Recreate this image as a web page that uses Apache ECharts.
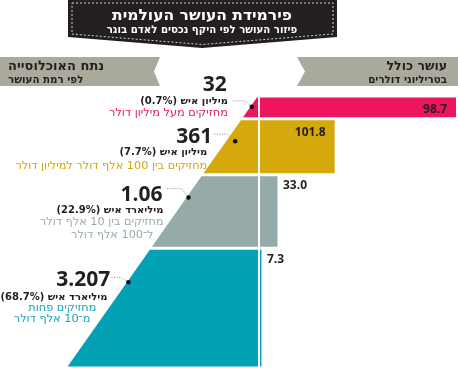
<!DOCTYPE html>
<html dir="rtl">
<head>
<meta charset="utf-8">
<script src="https://cdn.jsdelivr.net/npm/echarts@6/dist/echarts.min.js"></script>
<style>
html,body{margin:0;padding:0;background:#fff;}
#chart{width:458px;height:368px;}
</style>
</head>
<body>
<div id="chart"></div>
<script>
// ---------- data ----------
const categories = ['מעל מיליון דולר', 'בין 100 אלף דולר למיליון דולר', 'בין 10 אלף דולר ל־100 אלף דולר', 'פחות מ־10 אלף דולר'];
const popNumbers = ['32', '361', '1.06', '3.207'];
const popUnits = ['מיליון איש', 'מיליון איש', 'מיליארד איש', 'מיליארד איש'];
const popShare = [0.7, 7.7, 22.9, 68.7];          // % of adult population
const wealthTotal = [98.7, 101.8, 33.0, 7.3];      // trillion USD
const wealthLabels = ['98.7', '101.8', '33.0', '7.3'];
const descLines = [
  ['מחזיקים מעל מיליון דולר'],
  ['מחזיקים בין 100 אלף דולר למיליון דולר'],
  ['מחזיקים בין 10 אלף דולר', 'ל־100 אלף דולר'],
  ['מחזיקים פחות', 'מ־10 אלף דולר']
];
const titleText = 'פירמידת העושר העולמית';
const subtitleText = 'פיזור העושר לפי היקף נכסים לאדם בוגר';
const leftHeader = ['נתח האוכלוסייה', 'לפי רמת העושר'];
const rightHeader = ['עושר כולל', 'בטריליוני דולרים'];

// ---------- styles / layout ----------
const COLORS = ['#ee1460', '#d5a90c', '#95aaa9', '#02a1b5'];
const TEXT_COLORS = ['#e8185f', '#d4a50d', '#98acac', '#17a5b9'];
const FONT = '"Open Sans", "Liberation Sans", "DejaVu Sans", sans-serif';
const HFONT = '"DejaVu Sans", sans-serif';
const PYR_K = 13.2;   // pyramid slant (x units per depth unit)
const LAYOUT = {
  dotFrac: [0.476, 0.40, 0.31, 0.285],
  dotInset: [1.5, 9, 2, 1.5],
  leader: [[-6, -6, -20], [-8, -7, -22], [-7, -9, -22], [-7, -5, -17]],
  num: [[-25, -22], [-23, -4], [-26, -3], [-18, -2]],
  unit: [[-24, -5], [-28, 11], [-25, 13], [-21, 15]],
  desc: [[[-24, 6]], [[-28, 25]], [[-25, 25], [-35, 38]], [[-32, 26], [-38, 37]]]
};

const cum = [];
popShare.reduce((a, v, i) => { cum[i] = a + v; return a + v; }, 0);

function renderItem(params, api) {
  const i = api.value(0);
  const dTop = Math.sqrt(Math.max(0, cum[i] - popShare[i]));
  const dBot = Math.sqrt(cum[i]);
  const apex = api.coord([0, 0]);
  const pTop = api.coord([0, dTop]);
  const pBot = api.coord([0, dBot]);
  const pxPerY = api.size([0, 1])[1];
  const G = 1.5;
  const top = pTop[1] + G, bot = pBot[1] - G;
  const x0 = pTop[0];
  const edge = py => api.coord([-PYR_K * (py - apex[1]) / pxPerY, 0])[0] - 1;
  const children = [];
  children.push({
    type: 'polygon',
    shape: { points: [[x0 - 1, top], [x0 - 1, bot], [edge(bot), bot], [edge(top), top]] },
    style: { fill: COLORS[i] }
  });
  const hData = (bot - top) / pxPerY;
  const len = api.value(1) / hData;
  const xEnd = api.coord([len, 0])[0];
  children.push({
    type: 'rect',
    shape: { x: x0 + 1, y: top, width: xEnd - x0 - 1, height: bot - top },
    style: { fill: COLORS[i] }
  });
  const inside = (xEnd - x0) > 40;
  children.push({
    type: 'text',
    style: {
      text: wealthLabels[i],
      x: inside ? xEnd - 9 : xEnd + 5.5,
      y: top + (inside ? 12 : 9.5),
      align: inside ? 'right' : 'left',
      verticalAlign: 'middle',
      fill: '#231f20',
      font: 'bold 12px ' + FONT
    }
  });
  const dy = pTop[1] + LAYOUT.dotFrac[i] * (pBot[1] - pTop[1]);
  const dx = edge(dy) + LAYOUT.dotInset[i];
  const L = LAYOUT.leader[i];
  children.push({
    type: 'polyline',
    shape: { points: [[dx, dy], [dx + L[0], dy + L[1]], [dx + L[2], dy + L[1]]] },
    style: { stroke: '#8c8c8c', lineWidth: 1, lineDash: [1, 1.5], fill: null }
  });
  children.push({
    type: 'circle',
    shape: { cx: dx, cy: dy, r: 2.3 },
    style: { fill: '#111' }
  });
  children.push({
    type: 'text',
    style: {
      text: popNumbers[i],
      x: dx + LAYOUT.num[i][0], y: dy + LAYOUT.num[i][1],
      align: 'right', verticalAlign: 'middle',
      fill: '#231f20', font: 'bold 21px ' + FONT
    }
  });
  children.push({
    type: 'text',
    style: {
      text: popUnits[i] + ' (' + popShare[i].toFixed(1) + '%)',
      x: dx + LAYOUT.unit[i][0], y: dy + LAYOUT.unit[i][1],
      align: 'right', verticalAlign: 'middle',
      fill: '#231f20', font: 'bold 10px ' + HFONT
    }
  });
  descLines[i].forEach((line, k) => {
    const o = LAYOUT.desc[i][k];
    children.push({
      type: 'text',
      style: {
        text: line, x: dx + o[0], y: dy + o[1],
        align: 'right', verticalAlign: 'middle',
        fill: TEXT_COLORS[i], font: '11.3px ' + HFONT
      }
    });
  });
  return { type: 'group', children };
}

const chart = echarts.init(document.getElementById('chart'), null, { renderer: 'canvas' });
chart.setOption({
  animation: false,
  backgroundColor: '#fff',
  grid: { left: 0, right: 0, top: 96, height: 276 },
  xAxis: { type: 'value', min: -178.6, max: 137.24, show: false },
  yAxis: { type: 'value', min: 0, max: 10, inverse: true, show: false },
  graphic: [
    { type: 'polygon', shape: { points: [[68, 0], [337, 0], [337, 37], [202, 48], [68, 37]] }, style: { fill: '#231f20' } },
    { type: 'polygon', shape: { points: [[72, 3], [333, 3], [333, 34], [202, 44.5], [72, 34]] }, style: { fill: null, stroke: '#d0d0d0', lineWidth: 1, lineDash: [2, 2] } },
    { type: 'text', style: { text: titleText, x: 202, y: 16, align: 'center', verticalAlign: 'middle', fill: '#fff', font: 'bold 15.5px ' + HFONT } },
    { type: 'text', style: { text: subtitleText, x: 202, y: 30, align: 'center', verticalAlign: 'middle', fill: '#fff', font: 'bold 10.2px ' + HFONT } },
    { type: 'polygon', shape: { points: [[0, 57], [160, 57], [154, 71.5], [160, 86], [0, 86]] }, style: { fill: '#a9aa9c' } },
    { type: 'text', style: { text: leftHeader[0], x: 8, y: 66.5, align: 'left', verticalAlign: 'middle', fill: '#231f20', font: 'bold 13px ' + HFONT } },
    { type: 'text', style: { text: leftHeader[1], x: 8, y: 80, align: 'left', verticalAlign: 'middle', fill: '#231f20', font: 'bold 10.3px ' + HFONT } },
    { type: 'polygon', shape: { points: [[297, 57], [458, 57], [458, 86], [297, 86], [305, 71.5]] }, style: { fill: '#a9aa9c' } },
    { type: 'text', style: { text: rightHeader[0], x: 447, y: 66.5, align: 'right', verticalAlign: 'middle', fill: '#231f20', font: 'bold 12.5px ' + HFONT } },
    { type: 'text', style: { text: rightHeader[1], x: 447, y: 80, align: 'right', verticalAlign: 'middle', fill: '#231f20', font: 'bold 10.3px ' + HFONT } }
  ],
  series: [{
    type: 'custom',
    name: 'wealth',
    silent: true,
    clip: false,
    renderItem,
    data: wealthTotal.map((v, i) => [i, v, categories[i]])
  }]
});
</script>
</body>
</html>
